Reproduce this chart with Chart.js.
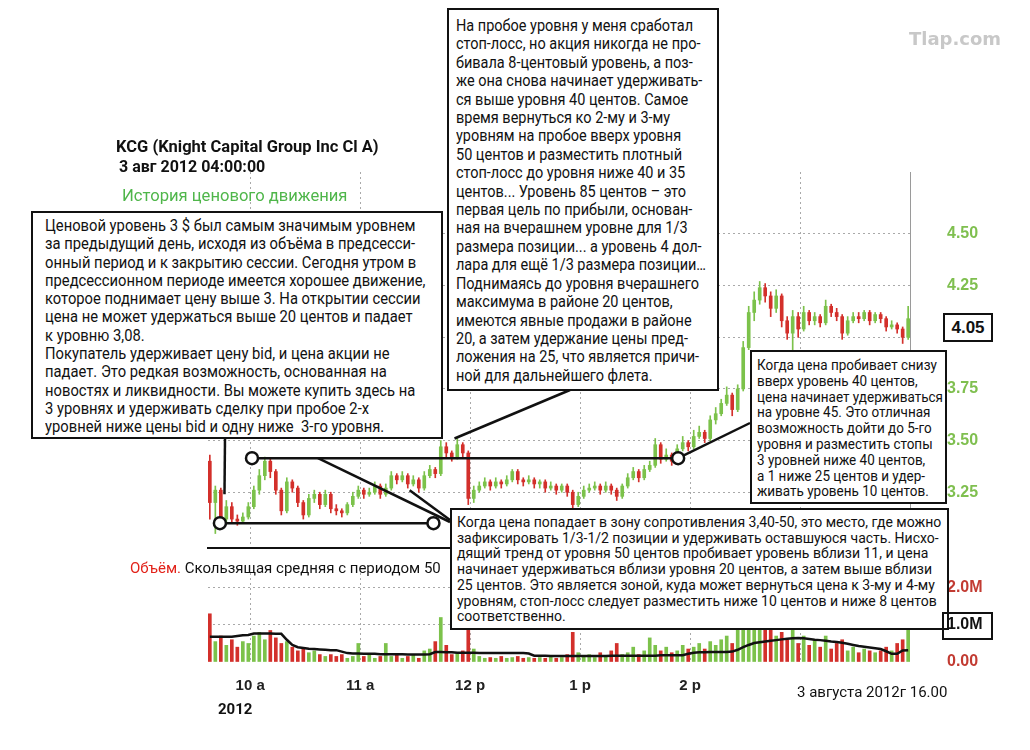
<!DOCTYPE html>
<html lang="ru">
<head>
<meta charset="utf-8">
<title>KCG — 3 авг 2012</title>
<script src="https://cdn.jsdelivr.net/npm/chart.js@4.4.1/dist/chart.umd.min.js"></script>
<style>
    html, body { margin: 0; padding: 0; background: #fff; }
    #page { position: relative; width: 1030px; height: 750px; overflow: hidden; color: #111; font-family: Roboto, "Liberation Sans", sans-serif; }
    canvas { position: absolute; left: 0; top: 0; }
    .box { position: absolute; box-sizing: border-box; background: #fff; border: 2px solid #111; white-space: nowrap; }
    .box > div { transform-origin: 0 0; }
    .t { position: absolute; white-space: nowrap; }
    #box-left { left: 31px; top: 211px; width: 412px; height: 228px; padding: 4px 0 0 12px; font-size: 16.5px; line-height: 18.3px; }
    #box-left > div { transform: scaleX(0.895); }
    #box-top { left: 447px; top: 8px; width: 272px; height: 383px; padding: 7px 0 0 7px; font-size: 16px; line-height: 18.4px; }
    #box-top > div { transform: scaleX(0.905); }
    #box-right { left: 750px; top: 350px; width: 197px; height: 154px; padding: 6px 0 0 5px; font-size: 14.5px; line-height: 15.8px; }
    #box-right > div { transform: scaleX(0.93); }
    #box-bottom { left: 450px; top: 508px; width: 499px; height: 122px; padding: 5px 0 0 5px; font-size: 14px; line-height: 15.7px; }
    #box-last { left: 943px; top: 313px; width: 50px; height: 29px; font: bold 17px "Liberation Sans", sans-serif; line-height: 25px; text-align: center; }
    #box-vol { left: 942px; top: 612px; width: 51px; height: 28px; background: transparent; }
</style>
</head>
<body>
<div id="page">
    <canvas id="price-chart" width="1030" height="750"></canvas>
    <canvas id="volume-chart" width="1030" height="750"></canvas>

    <div class="t" style="left:909px; top:28px; font: bold 18px 'DejaVu Sans', sans-serif; color:#c8c8c8;">Tlap.com</div>
    <div class="t" style="left:116px; top:137px; font-weight:bold; font-size:16.5px;">KCG (Knight Capital Group Inc Cl A)</div>
    <div class="t" style="left:119px; top:157px; font-weight:bold; font-size:16px;">3 авг 2012 04:00:00</div>
    <div class="t" style="left:122px; top:186px; font-size:16.6px; color:#4fb64a;">История ценового движения</div>
    <div class="t" style="left:130px; top:559px; font-size:15px;"><span style="color:#e2231a;">Объём.</span> Скользящая средняя с периодом 50</div>
    <div class="t" style="left:218px; top:700px; font-weight:bold; font-size:15px;">2012</div>
    <div class="t" style="left:797px; top:683px; font-size:15px;">3 августа 2012г 16.00</div>

    <div class="box" id="box-left"><div>Ценовой уровень 3 $ был самым значимым уровнем<br>за предыдущий день, исходя из объёма в предсесси-<br>онный период и к закрытию сессии. Сегодня утром в<br>предсессионном периоде имеется хорошее движение,<br>которое поднимает цену выше 3. На открытии сессии<br>цена не может удержаться выше 20 центов и падает<br>к уровню 3,08.<br>Покупатель удерживает цену bid, и цена акции не<br>падает. Это редкая возможность, основанная на<br>новостях и ликвидности. Вы можете купить здесь на<br>3 уровнях и удерживать сделку при пробое 2-х<br>уровней ниже цены bid и одну ниже&nbsp; 3-го уровня.</div></div>

    <div class="box" id="box-top"><div>На пробое уровня у меня сработал<br>стоп-лосс, но акция никогда не про-<br>бивала 8-центовый уровень, а поз-<br>же она снова начинает удерживать-<br>ся выше уровня 40 центов. Самое<br>время вернуться ко 2-му и 3-му<br>уровням на пробое вверх уровня<br>50 центов и разместить плотный<br>стоп-лосс до уровня ниже 40 и 35<br>центов... Уровень 85 центов – это<br>первая цель по прибыли, основан-<br>ная на вчерашнем уровне для 1/3<br>размера позиции... а уровень 4 дол-<br>лара для ещё 1/3 размера позиции…<br>Поднимаясь до уровня вчерашнего<br>максимума в районе 20 центов,<br>имеются явные продажи в районе<br>20, а затем удержание цены пред-<br>ложения на 25, что является причи-<br>ной для дальнейшего флета.</div></div>

    <div class="box" id="box-right"><div>Когда цена пробивает снизу<br>вверх уровень 40 центов,<br>цена начинает удерживаться<br>на уровне 45. Это отличная<br>возможность дойти до 5-го<br>уровня и разместить стопы<br>3 уровней ниже 40 центов,<br>а 1 ниже 25 центов и удер-<br>живать уровень 10 центов.</div></div>

    <div class="box" id="box-bottom"><div>Когда цена попадает в зону сопротивления 3,40-50, это место, где можно<br>зафиксировать 1/3-1/2 позиции и удерживать оставшуюся часть. Нисхо-<br>дящий тренд от уровня 50 центов пробивает уровень вблизи 11, и цена<br>начинает удерживаться вблизи уровня 20 центов, а затем выше вблизи<br>25 центов. Это является зоной, куда может вернуться цена к 3-му и 4-му<br>уровням, стоп-лосс следует разместить ниже 10 центов и ниже 8 центов<br>соответственно.</div></div>

    <div class="box" id="box-last">4.05</div>
    <div class="box" id="box-vol"></div>
</div>

<script>
// ============= DATA =============
// 3-minute bars, time in minutes after midnight (first bar 9:38)
const FIRST_BAR = 578;
const BAR_STEP = 3;
const firstOpen = 3.40;

const closes = [
    3.20, 3.26, 3.12, 3.18, 3.12, 3.11, 3.13, 3.18, 3.26, 3.33,
    3.40, 3.35, 3.26, 3.16, 3.30, 3.27, 3.20, 3.14, 3.22, 3.24,
    3.19, 3.24, 3.17, 3.16, 3.15, 3.19, 3.23, 3.26, 3.24, 3.25,
    3.28, 3.24, 3.27, 3.33, 3.31, 3.33, 3.29, 3.31, 3.27, 3.33,
    3.36, 3.34, 3.47, 3.44, 3.42, 3.48, 3.44, 3.22, 3.26, 3.28,
    3.30, 3.28, 3.30, 3.29, 3.31, 3.35, 3.31, 3.30, 3.31, 3.29,
    3.30, 3.27, 3.28, 3.26, 3.28, 3.25, 3.19, 3.23, 3.26, 3.27,
    3.28, 3.26, 3.28, 3.26, 3.23, 3.28, 3.32, 3.35, 3.32, 3.36,
    3.38, 3.48, 3.41, 3.43, 3.40, 3.46, 3.49, 3.47, 3.52, 3.54,
    3.51, 3.60, 3.63, 3.68, 3.72, 3.65, 3.75, 3.95, 4.12, 4.18,
    4.24, 4.20, 4.14, 4.20, 4.08, 4.02, 4.10, 4.04, 4.12, 4.08,
    4.10, 4.07, 4.15, 4.12, 4.10, 4.02, 4.08, 4.10, 4.09, 4.12,
    4.08, 4.11, 4.09, 4.05, 4.06, 4.04, 4.00, 4.09
];

const highs = [
    3.43, 3.28, 3.27, 3.21, 3.20, 3.14, 3.15, 3.20, 3.28, 3.36,
    3.42, 3.41, 3.36, 3.27, 3.32, 3.31, 3.28, 3.21, 3.24, 3.26,
    3.25, 3.26, 3.25, 3.19, 3.17, 3.20, 3.25, 3.28, 3.27, 3.27,
    3.30, 3.29, 3.29, 3.35, 3.34, 3.35, 3.34, 3.33, 3.32, 3.35,
    3.38, 3.37, 3.50, 3.49, 3.45, 3.51, 3.49, 3.45, 3.28, 3.30,
    3.32, 3.31, 3.32, 3.31, 3.33, 3.36, 3.36, 3.32, 3.33, 3.32,
    3.31, 3.31, 3.30, 3.29, 3.29, 3.29, 3.26, 3.25, 3.28, 3.29,
    3.30, 3.29, 3.30, 3.29, 3.27, 3.29, 3.34, 3.37, 3.36, 3.38,
    3.40, 3.51, 3.49, 3.46, 3.44, 3.48, 3.52, 3.50, 3.55, 3.57,
    3.55, 3.62, 3.66, 3.70, 3.76, 3.73, 3.77, 3.98, 4.15, 4.22,
    4.27, 4.26, 4.22, 4.23, 4.21, 4.10, 4.13, 4.12, 4.15, 4.13,
    4.12, 4.11, 4.18, 4.16, 4.14, 4.11, 4.10, 4.12, 4.12, 4.13,
    4.13, 4.12, 4.12, 4.10, 4.08, 4.07, 4.05, 4.15
];

const lows = [
    3.12, 3.05, 3.09, 3.10, 3.10, 3.09, 3.10, 3.12, 3.17, 3.24,
    3.31, 3.32, 3.24, 3.14, 3.15, 3.25, 3.18, 3.12, 3.13, 3.20,
    3.17, 3.18, 3.15, 3.14, 3.13, 3.14, 3.18, 3.22, 3.22, 3.23,
    3.24, 3.22, 3.23, 3.26, 3.29, 3.30, 3.27, 3.28, 3.25, 3.26,
    3.32, 3.32, 3.33, 3.42, 3.40, 3.41, 3.42, 3.19, 3.20, 3.25,
    3.27, 3.26, 3.27, 3.27, 3.28, 3.30, 3.29, 3.28, 3.29, 3.27,
    3.27, 3.25, 3.26, 3.24, 3.25, 3.23, 3.17, 3.18, 3.22, 3.25,
    3.26, 3.24, 3.25, 3.24, 3.21, 3.22, 3.27, 3.31, 3.30, 3.31,
    3.35, 3.37, 3.39, 3.40, 3.38, 3.39, 3.45, 3.45, 3.46, 3.51,
    3.49, 3.50, 3.58, 3.62, 3.67, 3.62, 3.64, 3.74, 3.94, 4.08,
    4.16, 4.17, 4.10, 4.12, 4.05, 3.99, 3.94, 4.00, 4.03, 4.06,
    4.06, 4.05, 4.06, 4.10, 4.08, 3.99, 4.01, 4.07, 4.07, 4.08,
    4.06, 4.07, 4.07, 4.03, 4.04, 4.02, 3.97, 3.99
];

// volume per bar, millions of shares
const volumes = [
    1.30, 0.55, 0.70, 0.45, 0.60, 0.40, 0.55, 0.50, 0.70, 0.80,
    0.60, 0.85, 0.65, 0.50, 0.55, 0.40, 0.30, 0.35, 0.25, 0.30,
    0.20, 0.15, 0.20, 0.15, 0.20, 0.10, 0.15, 0.50, 0.15, 0.20,
    0.10, 0.15, 0.50, 0.15, 0.20, 0.10, 0.15, 0.20, 0.10, 0.30,
    0.35, 0.55, 1.20, 0.45, 0.20, 0.25, 0.30, 0.90, 0.35, 0.15,
    0.10, 0.12, 0.10, 0.15, 0.10, 0.12, 0.15, 0.10, 0.12, 0.10,
    0.12, 0.10, 0.15, 0.10, 0.12, 0.20, 0.80, 0.25, 0.15, 0.20,
    0.12, 0.25, 0.15, 0.30, 0.50, 0.20, 0.25, 0.40, 0.20, 0.30,
    0.65, 0.45, 0.30, 0.40, 0.25, 0.30, 0.45, 0.35, 0.40, 0.50,
    0.35, 0.55, 0.45, 0.60, 0.70, 0.50, 0.90, 2.40, 1.90, 1.40,
    1.10, 0.90, 1.00, 0.70, 0.80, 0.60, 0.90, 0.50, 0.70, 0.45,
    0.60, 0.40, 0.70, 0.35, 0.50, 0.60, 0.30, 0.40, 0.25, 0.35,
    0.30, 0.25, 0.30, 0.40, 0.30, 0.50, 0.60, 1.30
];

// 50-period moving average of volume
const volumeAverage = [
    0.68, 0.68, 0.68, 0.68, 0.68, 0.70, 0.72, 0.73, 0.77, 0.77,
    0.77, 0.77, 0.76, 0.76, 0.60, 0.46, 0.40, 0.38, 0.36, 0.35,
    0.34, 0.33, 0.32, 0.32, 0.28, 0.24, 0.23, 0.23, 0.22, 0.22,
    0.22, 0.21, 0.21, 0.21, 0.21, 0.21, 0.20, 0.20, 0.20, 0.20,
    0.21, 0.27, 0.27, 0.26, 0.26, 0.25, 0.25, 0.25, 0.25, 0.24,
    0.24, 0.24, 0.24, 0.24, 0.24, 0.24, 0.24, 0.24, 0.23, 0.17,
    0.17, 0.17, 0.16, 0.16, 0.16, 0.16, 0.16, 0.16, 0.16, 0.16,
    0.16, 0.16, 0.16, 0.17, 0.17, 0.17, 0.17, 0.17, 0.17, 0.17,
    0.17, 0.17, 0.18, 0.18, 0.18, 0.18, 0.18, 0.22, 0.25, 0.26,
    0.26, 0.27, 0.27, 0.27, 0.27, 0.28, 0.33, 0.40, 0.46, 0.51,
    0.53, 0.55, 0.57, 0.59, 0.61, 0.63, 0.64, 0.65, 0.64, 0.62,
    0.60, 0.59, 0.57, 0.55, 0.54, 0.52, 0.49, 0.46, 0.43, 0.41,
    0.39, 0.37, 0.35, 0.29, 0.22, 0.22, 0.31, 0.32
];

const hourTicks = [600, 660, 720, 780, 840, 900];
const hourLabels = ['10 a', '11 a', '12 p', '1 p', '2 p', ''];
const priceTicks = [3.25, 3.50, 3.75, 4.00, 4.25, 4.50];
const priceTickLabels = ['3.25', '3.50', '3.75', '', '4.25', '4.50'];
const volumeTicks = [0, 1, 2];
const volumeTickLabels = ['0.00', '1.0M', '2.0M'];

// marked support / resistance levels: price and the two circled times
const levels = [
    { price: 3.10, from: 583.5, to: 700 },
    { price: 3.415, from: 601, to: 833.5 }
];
// callout pointers: chart point (time, price) -> edge of a text box (page px)
const pointers = [
    { at: [586, 3.24], box: [225, 438] },
    { at: [711.5, 3.51], box: [570, 390] },
    { at: [833.5, 3.415], box: [750, 423] },
    { at: [637, 3.415], box: [450, 522] },
    { at: [687, 3.26], box: [450, 520] }
];

// ============= DERIVED =============
const times = closes.map((c, i) => FIRST_BAR + i * BAR_STEP);
const opens = closes.map((c, i) => (i === 0 ? firstOpen : closes[i - 1]));
const GREEN = '#7cc24b';
const RED = '#d3302b';
const barColors = closes.map((c, i) => (c >= opens[i] ? GREEN : RED));

const X_MIN = 577;
const X_MAX = 960;
const GRID = '#a9a9a9';
const TICK_FONT = { family: "'Liberation Sans', Arial, sans-serif", size: 16, weight: 'bold' };

// ============= ANNOTATIONS =============
const annotationPlugin = {
    id: 'levels',
    afterDatasetsDraw(chart) {
        const { ctx, scales: { x, y } } = chart;
        ctx.save();
        ctx.strokeStyle = '#111';
        ctx.lineWidth = 2.5;

        pointers.forEach(p => {
            ctx.beginPath();
            ctx.moveTo(x.getPixelForValue(p.at[0]), y.getPixelForValue(p.at[1]));
            ctx.lineTo(p.box[0], p.box[1]);
            ctx.stroke();
        });

        levels.forEach(l => {
            const py = y.getPixelForValue(l.price);
            const x1 = x.getPixelForValue(l.from);
            const x2 = x.getPixelForValue(l.to);
            ctx.beginPath();
            ctx.moveTo(x1, py);
            ctx.lineTo(x2, py);
            ctx.stroke();
            [x1, x2].forEach(px => {
                ctx.beginPath();
                ctx.arc(px, py, 6, 0, Math.PI * 2);
                ctx.fillStyle = '#fff';
                ctx.fill();
                ctx.stroke();
            });
        });
        ctx.restore();
    }
};

// ============= PRICE CHART =============
const priceChart = new Chart(document.getElementById('price-chart'), {
    type: 'bar',
    data: {
        datasets: [
            {
                label: 'High-Low',
                data: times.map((t, i) => ({ x: t, y: [lows[i], highs[i]] })),
                backgroundColor: barColors,
                barThickness: 1,
                grouped: false
            },
            {
                label: 'Open-Close',
                data: times.map((t, i) => ({ x: t, y: [opens[i], closes[i]] })),
                backgroundColor: barColors,
                barThickness: 3,
                grouped: false
            }
        ]
    },
    options: {
        responsive: false,
        animation: false,
        layout: { padding: { left: 208, top: 172, right: 10, bottom: 202 } },
        plugins: { legend: { display: false }, tooltip: { enabled: false } },
        scales: {
            x: {
                type: 'linear',
                min: X_MIN,
                max: X_MAX,
                offset: false,
                afterBuildTicks: s => { s.ticks = hourTicks.map(v => ({ value: v })); },
                afterFit: s => { s.height = 0; },
                ticks: { display: false },
                grid: { color: GRID, drawTicks: false, offset: false },
                border: { display: true, color: '#111', width: 2, dash: [2, 3] }
            },
            y: {
                position: 'right',
                min: 2.98,
                max: 4.80,
                afterBuildTicks: s => { s.ticks = priceTicks.map(v => ({ value: v })); },
                afterFit: s => { s.width = 110; },
                ticks: {
                    padding: 37,
                    color: '#7fbf4f',
                    font: TICK_FONT,
                    callback: (v, i) => priceTickLabels[i]
                },
                grid: { color: GRID, drawTicks: false },
                border: { display: true, color: '#9a9a9a', width: 1, dash: [2, 3] }
            }
        }
    },
    plugins: [annotationPlugin]
});

// ============= VOLUME CHART =============
const volumeChart = new Chart(document.getElementById('volume-chart'), {
    data: {
        datasets: [
            {
                type: 'line',
                label: 'MA 50',
                data: times.map((t, i) => ({ x: t, y: volumeAverage[i] })),
                borderColor: '#111',
                borderWidth: 2.5,
                pointRadius: 0,
                tension: 0,
                order: 0
            },
            {
                type: 'bar',
                label: 'Volume',
                data: times.map((t, i) => ({ x: t, y: volumes[i] })),
                backgroundColor: barColors,
                barThickness: 3,
                order: 1
            }
        ]
    },
    options: {
        responsive: false,
        animation: false,
        layout: { padding: { left: 208, top: 573, right: 10, bottom: 48 } },
        plugins: { legend: { display: false }, tooltip: { enabled: false } },
        scales: {
            x: {
                type: 'linear',
                min: X_MIN,
                max: X_MAX,
                offset: false,
                afterBuildTicks: s => { s.ticks = hourTicks.map(v => ({ value: v })); },
                afterFit: s => { s.height = 40; },
                ticks: {
                    autoSkip: false,
                    maxRotation: 0,
                    padding: 15,
                    color: '#222',
                    font: { family: "'Liberation Sans', Arial, sans-serif", size: 15, weight: 'bold' },
                    callback: (v, i) => hourLabels[i]
                },
                grid: { color: GRID, drawTicks: false, offset: false },
                border: { display: false, dash: [2, 3] }
            },
            y: {
                position: 'right',
                min: 0,
                max: 2.4,
                afterBuildTicks: s => { s.ticks = volumeTicks.map(v => ({ value: v })); },
                afterFit: s => { s.width = 110; },
                ticks: {
                    padding: 37,
                    font: TICK_FONT,
                    color: c => (c.tick && c.tick.value === 1 ? '#111' : '#c23b32'),
                    callback: (v, i) => volumeTickLabels[i]
                },
                grid: { color: c => (c.tick && c.tick.value === 0 ? 'rgba(0,0,0,0)' : GRID), drawTicks: false },
                border: { display: false, dash: [2, 3] }
            }
        }
    }
});
</script>
</body>
</html>
